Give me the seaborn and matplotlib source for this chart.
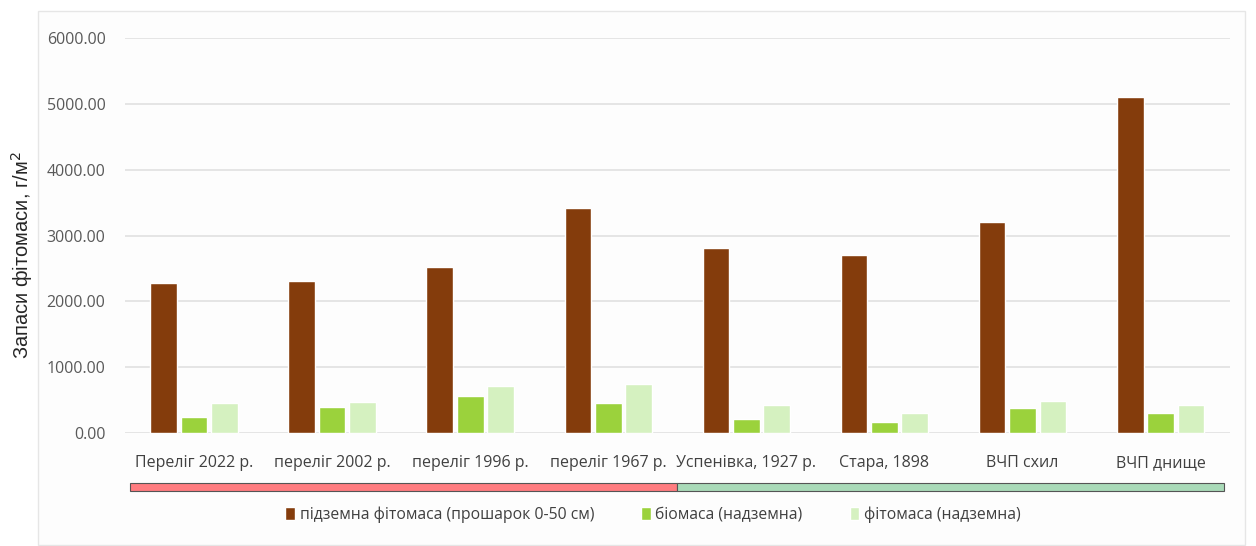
import matplotlib
matplotlib.use("Agg")
import matplotlib.pyplot as plt
import matplotlib.transforms as mtransforms
from matplotlib.patches import Rectangle
import pandas as pd
import seaborn as sns

# дані
ділянки = ["Переліг 2022 р.", "переліг 2002 р.", "переліг 1996 р.", "переліг 1967 р.",
           "Успенівка, 1927 р.", "Стара, 1898", "ВЧП схил", "ВЧП днище"]
підземна = [2280, 2305, 2525, 3420, 2805, 2700, 3205, 5100]
біомаса = [250, 392, 567, 461, 215, 165, 378, 300]
фітомаса = [462, 478, 714, 740, 423, 300, 493, 423]
серії = ["підземна фітомаса (прошарок 0-50 см)", "біомаса (надземна)", "фітомаса (надземна)"]
кольори = ["#843C0C", "#9BD23C", "#D5F1C0"]

df = pd.DataFrame({"ділянка": ділянки * 3,
                   "серія": [серії[0]] * 8 + [серії[1]] * 8 + [серії[2]] * 8,
                   "значення": підземна + біомаса + фітомаса})

sns.set_theme(style="white")
plt.rcParams['font.family'] = ['Open Sans', 'DejaVu Sans']

fig = plt.figure(figsize=(12.56, 5.46), dpi=100)
ax = fig.add_axes([0.0995, 0.207, 0.8795, 0.723])
fig.patches.append(Rectangle((38 / 1256, 0.002), 1207 / 1256, 0.978, transform=fig.transFigure,
                             facecolor="#FDFDFD", edgecolor="#E6E6E6", lw=1, zorder=-10))
ax.set_facecolor("none")

sns.barplot(data=df, x="ділянка", y="значення", hue="серія", palette=кольори, saturation=1,
            width=0.66, gap=0.12, ax=ax, legend=True, zorder=3)

ax.set_ylim(0, 6000)
ax.set_xlim(-0.5, 7.5)
ax.set_yticks(range(0, 6001, 1000))
ax.set_yticklabels([f"{v:.2f}" for v in range(0, 6001, 1000)])
ax.yaxis.grid(True, color="#E3E3E3", lw=1.3, zorder=0)
for s in ax.spines.values():
    s.set_visible(False)
ax.tick_params(axis="y", labelsize=11.5, labelcolor="#595959", length=0, pad=14)
ax.tick_params(axis="x", labelsize=11.5, labelcolor="#404040", length=0, pad=16)
ax.set_xlabel("")
ax.set_ylabel("Запаси фітомаси, г/м$^2$", fontsize=14.5, color="#262626",
              family=['Liberation Sans', 'DejaVu Sans'])
ax.yaxis.set_label_coords(-0.081, 0.45)

# смуга груп під підписами
trans = mtransforms.blended_transform_factory(ax.transData, ax.transAxes)
ax.add_patch(Rectangle((-0.46, -0.126), 3.96, -0.022, transform=trans, clip_on=False,
                       facecolor="#FF7C80", edgecolor="#555555", lw=0.8))
ax.add_patch(Rectangle((3.5, -0.126), 3.96, -0.022, transform=trans, clip_on=False,
                       facecolor="#A9DAB8", edgecolor="#555555", lw=0.8))

leg = ax.legend(loc="center", bbox_to_anchor=(0.478, -0.208), ncol=3, frameon=False,
                fontsize=11.3, handlelength=0.6, handleheight=0.9, handletextpad=0.3,
                columnspacing=3.0)
for t in leg.get_texts():
    t.set_color("#404040")

fig.savefig("out.png", dpi=100, facecolor="white")
